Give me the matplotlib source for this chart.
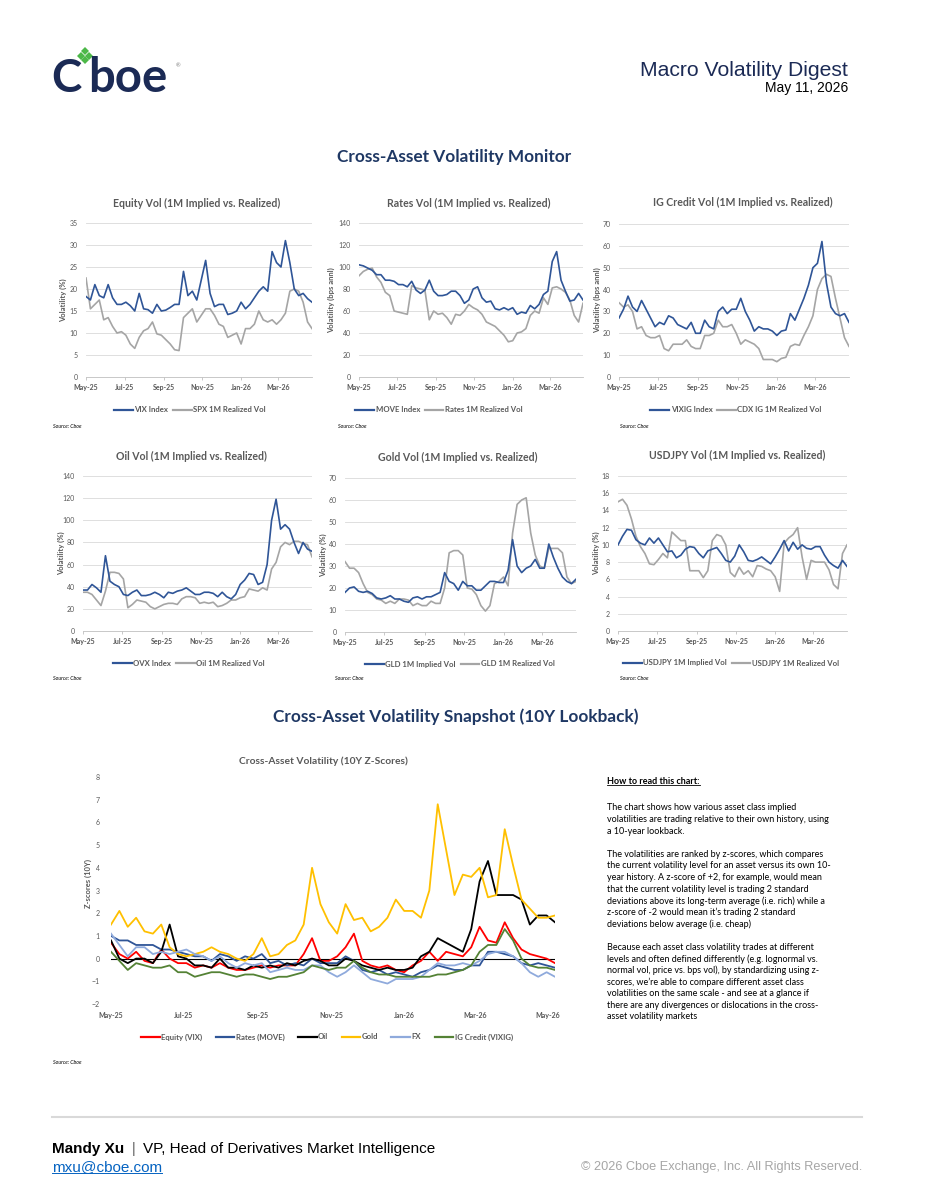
import numpy as np
import pandas as pd
import matplotlib
matplotlib.use("Agg")
import matplotlib.pyplot as plt
import matplotlib.dates as mdates
from matplotlib.lines import Line2D

# weekly dates, 1M vol panels and the z-score chart
panel_dates = pd.date_range("2025-05-01", periods=52, freq="7D")
z_dates = pd.date_range("2025-05-01", periods=54, freq="7D")

# Equity
vix_index = [18.3, 17.5, 21, 18.5, 18, 21, 18, 16.5, 16.5, 17, 16.2, 15, 19, 15.5, 15.3, 14.5, 16.5, 15, 15.2, 15.8,
             16.5, 16.5, 24, 18.5, 19.5, 17.5, 22, 26.5, 19, 16, 16.5, 16.5, 14.2, 14.5, 15, 17, 15.5, 16.5, 18, 19.5,
             20.5, 19.5, 28.5, 26, 25, 31, 26, 20, 18.5, 19, 17.8, 17]
spx_realized = [22.5, 15.5, 16.5, 17.5, 13, 13.5, 11.5, 10, 10.3, 9.5, 7.5, 6.5, 9, 10.5, 11, 12.5, 9.8, 9.5, 8.5, 7.5,
                6.2, 6, 13.5, 14.5, 15.5, 12.5, 14, 15.5, 15.5, 14, 12, 11.5, 9, 9.5, 10, 7.5, 11, 11, 12, 15,
                13, 12.5, 13, 12, 13, 14.5, 19.5, 20, 19.5, 17, 12.5, 11]
# Rates
move_index = [102, 101, 99, 97, 93, 93, 88, 88, 87, 84, 84, 82, 87, 79, 76, 79, 88, 78, 74, 74,
              75, 78, 78, 74, 67, 70, 80, 82, 72, 68, 69, 62, 61, 63, 61, 63, 57, 59, 58, 65,
              62, 66, 75, 78, 105, 114, 88, 78, 69, 70, 76, 70]
rates_realized = [92, 96, 98, 99, 91, 86, 77, 74, 60, 59, 58, 57, 83, 81, 80, 79, 52, 60, 57, 58,
                  54, 48, 57, 56, 60, 66, 63, 61, 57, 50, 48, 46, 42, 38, 32, 33, 40, 41, 44, 56,
                  60, 58, 72, 66, 81, 82, 80, 77, 70, 56, 50, 67]
# IG credit
vixig_index = [27, 31, 37, 32, 30, 35, 31, 27, 23, 25, 24, 28, 27, 24, 23, 22, 25, 20, 20, 26,
               23, 22, 30, 32, 29, 31, 31, 36, 30, 26, 21, 23, 22, 22, 21, 19, 21, 21.5, 29, 26,
               31, 36, 42, 50, 52, 62, 43, 32, 29, 28, 29, 25]
cdx_realized = [34, 32, 33, 30, 22, 23, 19, 18, 18, 19, 13, 12, 15, 15, 15, 17, 14, 13, 13, 19,
                19, 20, 26, 23, 23, 24, 20, 15, 17, 16, 15, 13, 8, 8, 8, 7, 8.5, 9, 14, 15,
                14.5, 19, 23, 28, 40, 45, 47, 46, 36, 27, 18, 14]
# Oil
ovx_index = [37, 37, 42, 39, 35, 68, 45, 42, 40, 33, 32, 35, 37, 32, 32, 33, 35, 33, 30, 35,
             34, 36, 37, 39, 36, 33, 33, 35, 35, 34, 31, 35, 31, 29, 33, 42, 46, 52, 51, 42,
             44, 60, 100, 119, 92, 96, 92, 80, 70, 80, 74, 72]
oil_realized = [35, 35, 33, 28, 23, 36, 53, 53, 52, 47, 21, 24, 28, 27, 26, 22, 20, 22, 24, 25,
                25, 24, 29, 31, 31, 30, 25, 26, 25, 26, 22, 23, 25, 28, 28, 30, 31, 38, 37, 36,
                39, 37, 56, 62, 76, 80, 78, 81, 81, 79, 78, 67]
# Gold
gld_implied = [18, 20, 20.5, 18.5, 18, 18.5, 17.5, 15.5, 15, 15.5, 16.5, 15, 15, 14, 13.5, 15.5, 16, 15, 16, 16,
               17, 18, 27, 23, 22, 19, 23, 21, 21, 19, 19, 21, 23, 23, 22.5, 22.5, 28, 42, 30, 27,
               29, 30, 33, 29, 29, 40, 34, 29, 25, 23, 22, 24]
gld_realized = [32, 29, 29, 27, 22, 18, 17, 15, 14.5, 13, 14, 13, 15, 15, 14.5, 12, 13, 12, 12, 14,
                13, 13, 20, 36, 37, 37, 35, 20, 19.5, 17, 12, 9.5, 12, 22, 23, 25, 21, 45, 58, 60,
                61, 45, 35, 30, 29, 38, 38, 38, 36, 25, 22, 23]
# USDJPY
jpy_implied = [10, 11, 11.8, 11.7, 10.6, 10.2, 10, 10.8, 10.2, 10.8, 10, 9.2, 9.3, 8.5, 8.8, 9.5, 9.8, 9.7, 9, 8.5,
               9.3, 9.5, 9.7, 9, 8.2, 8, 8.7, 10, 9.2, 8.2, 8.1, 8.3, 8.6, 8.2, 7.8, 8.6, 9.5, 10.5, 9.3, 10.3,
               9.5, 10, 9.6, 9.5, 9.8, 9.8, 8.8, 8, 7.6, 7.3, 8.2, 7.5]
jpy_realized = [15, 15.3, 14.6, 13, 11, 9.8, 9, 7.8, 7.7, 8.3, 9, 8.5, 11.5, 11, 10.5, 10.5, 7, 7, 7, 6.2,
                7, 10.5, 11.2, 11, 10, 6.8, 6.3, 7.4, 6.6, 7, 6.3, 7.6, 7.5, 7.2, 7, 6.3, 4.6, 10.2, 10.8, 11.2,
                12, 8.6, 6, 8.2, 8, 8, 8, 7.1, 5.4, 4.9, 9, 10]

# 10Y z-scores
z_equity = [0.7, 0.2, 0, 0.3, -0.1, -0.2, 0.4, 0, -0.2, -0.2, -0.4, -0.3, -0.4, -0.2, -0.4, -0.5, -0.5, -0.4,
            -0.3, -0.4, -0.3, -0.3, -0.3, 0.2, 0.9, -0.1, -0.1, 0.1, 0.5, 1.1, -0.1, -0.3, -0.4, -0.3, -0.5, -0.6,
            -0.3, -0.1, 0.3, -0.1, 0.3, 0.2, 0.1, 0.5, 1.4, 0.8, 0.7, 1.6, 0.9, 0.4, 0.2, 0.1, 0, -0.2]
z_rates = [1.0, 0.8, 0.8, 0.6, 0.6, 0.6, 0.4, 0.4, 0.3, 0.2, 0.1, 0.1, -0.1, 0.2, 0.1, -0.1, 0.1, 0,
           0.2, -0.2, -0.1, -0.3, -0.2, -0.3, 0, -0.2, -0.2, -0.2, 0.1, -0.1, -0.5, -0.6, -0.5, -0.7, -0.6, -0.7,
           -0.8, -0.6, -0.5, -0.3, -0.4, -0.5, -0.5, -0.3, -0.3, 0.3, 0.3, 0.2, 0.1, -0.2, -0.3, -0.2, -0.3, -0.4]
z_oil = [0.8, 0, -0.2, 0, 0, -0.2, 0.3, 1.5, 0.1, 0, -0.3, -0.3, -0.4, 0, -0.4, -0.4, -0.5, -0.3,
         -0.4, -0.3, -0.4, -0.2, -0.3, -0.1, 0, -0.1, -0.3, -0.3, 0, -0.1, -0.3, -0.4, -0.5, -0.4, -0.5, -0.5,
         -0.4, 0.1, 0.3, 0.9, 0.7, 0.5, 0.3, 1.3, 3.4, 4.3, 2.8, 2.8, 2.8, 2.6, 1.5, 1.9, 1.9, 1.6]
z_gold = [1.5, 2.1, 1.4, 1.8, 1.2, 1.1, 1.5, 0.5, 0.2, 0.1, 0.2, 0.3, 0.5, 0.3, 0.2, 0, -0.1, 0.2,
          0.9, 0.1, 0.2, 0.6, 0.8, 1.5, 4.0, 2.4, 1.6, 1.1, 2.4, 1.7, 1.8, 1.2, 1.4, 1.8, 2.6, 2.1,
          2.1, 1.8, 3.0, 6.8, 4.8, 2.8, 3.7, 3.6, 4.0, 2.7, 2.8, 5.7, 4.1, 2.6, 2.2, 1.8, 1.8, 1.9]
z_fx = [1.1, 0.6, 0.1, 0.5, 0.5, 0.2, 0.3, 0.2, 0.3, 0.4, 0.2, 0.1, -0.1, 0.1, -0.2, -0.4, -0.2, -0.3,
        -0.2, -0.6, -0.5, -0.4, -0.5, -0.5, -0.3, -0.3, -0.6, -0.8, -0.6, -0.3, -0.6, -0.9, -1.0, -1.1, -0.9, -0.9,
        -0.9, -0.8, -0.5, -0.2, -0.3, -0.3, -0.2, -0.3, -0.1, 0.2, 0.3, 0.3, 0.1, -0.2, -0.6, -0.8, -0.6, -0.8]
z_ig = [0.3, -0.1, -0.5, -0.2, -0.3, -0.4, -0.4, -0.3, -0.6, -0.6, -0.8, -0.7, -0.6, -0.6, -0.7, -0.8, -0.7, -0.7,
        -0.8, -0.9, -0.8, -0.8, -0.7, -0.6, -0.3, -0.4, -0.5, -0.4, -0.4, -0.1, -0.4, -0.6, -0.7, -0.7, -0.8, -0.8,
        -0.8, -0.8, -0.8, -0.7, -0.7, -0.6, -0.5, -0.3, 0.3, 0.6, 0.6, 1.3, 0.8, 0, -0.3, -0.4, -0.4, -0.5]
z_names = ["Equity (VIX)", "Rates (MOVE)", "Oil", "Gold", "FX", "IG Credit (VIXIG)"]
z_colors = ["#FF0000", "#2F5597", "#000000", "#FFC000", "#8FAADC", "#548235"]

notes = [
    "The chart shows how various asset class implied",
    "volatilities are trading relative to their own history, using",
    "a 10-year lookback.",
    "",
    "The volatilities are ranked by z-scores, which compares",
    "the current volatility level for an asset versus its own 10-",
    "year history. A z-score of +2, for example, would mean",
    "that the current volatility level is trading 2 standard",
    "deviations above its long-term average (i.e. rich) while a",
    "z-score of -2 would mean it\u2019s trading 2 standard",
    "deviations below average (i.e. cheap)",
    "",
    "Because each asset class volatility trades at different",
    "levels and often defined differently (e.g. lognormal vs.",
    "normal vol, price vs. bps vol), by standardizing using z-",
    "scores, we\u2019re able to compare different asset class",
    "volatilities on the same scale - and see at a glance if",
    "there are any divergences or dislocations in the cross-",
    "asset volatility markets",
]

W, H = 927, 1200
CHART_FONT = ["Lato", "DejaVu Sans"]
HEAD_FONT = ["Liberation Sans", "DejaVu Sans"]
BLUE = "#2F5597"
GREY = "#A5A5A5"
TXT = "#595959"
NAVY = "#1F3864"
LOGO = "#1B2A55"

plt.rcParams["font.family"] = CHART_FONT


def fx(x):
    return x / W


def fy(y):
    return 1 - y / H


fig = plt.figure(figsize=(W / 100, H / 100), dpi=100)


def add_ax(x0, y0, x1, y1):
    return fig.add_axes([fx(x0), fy(y1), (x1 - x0) / W, (y1 - y0) / H])


def date_axis(ax, dates):
    ax.set_xlim(dates[0], dates[-1])
    ax.xaxis.set_major_locator(mdates.MonthLocator(bymonth=[1, 3, 5, 7, 9, 11]))
    ax.xaxis.set_major_formatter(mdates.DateFormatter("%b-%y"))
    for lbl in ax.get_xticklabels():
        lbl.set_fontweight("bold")


def panel(box, title, tpos, ylabel, ylx, ymax, ystep, implied, realized, names, leg, src):
    ax = add_ax(*box)
    ax.plot(panel_dates, realized, color=GREY, lw=1.2, zorder=2)
    ax.plot(panel_dates, implied, color=BLUE, lw=1.2, zorder=3)
    ax.set_ylim(0, ymax)
    ax.set_yticks(np.arange(0, ymax + ystep / 2, ystep))
    date_axis(ax, panel_dates)
    ax.grid(axis="y", color="#D9D9D9", lw=0.6)
    ax.set_axisbelow(True)
    for s in ("top", "right", "left"):
        ax.spines[s].set_visible(False)
    ax.spines["bottom"].set_color("#BFBFBF")
    ax.spines["bottom"].set_linewidth(0.6)
    ax.tick_params(axis="y", length=0, pad=6, labelsize=5, labelcolor=TXT)
    ax.tick_params(axis="x", length=2, width=0.6, color="#BFBFBF", pad=3, labelsize=5, labelcolor=TXT)
    for lbl in ax.get_xticklabels():
        lbl.set_fontweight("bold")
    fig.text(fx(tpos[0]), fy(tpos[1]), title, ha="center", va="center",
             fontsize=7.6, fontweight="bold", color=TXT)
    fig.text(fx(ylx), fy((box[1] + box[3]) / 2), ylabel, rotation=90, ha="center", va="center",
             fontsize=5.5, fontweight="bold", color=TXT)
    hs = [Line2D([], [], color=BLUE, lw=1.6), Line2D([], [], color=GREY, lw=1.6)]
    lg = fig.legend(hs, names, loc="center", bbox_to_anchor=(fx(leg[0]), fy(leg[1])), ncol=2,
                    frameon=False, fontsize=5.6, handlelength=2.4, handletextpad=0.2, columnspacing=0.6)
    for t in lg.get_texts():
        t.set_color(TXT)
        t.set_fontweight("bold")
    fig.text(fx(src[0]), fy(src[1]), "Source: Cboe", fontsize=3.8, style="italic", ha="left", va="center")
    return ax


# header
fig.text(fx(51), fy(92), "C", fontsize=33, fontweight="bold", color=LOGO, ha="left", va="baseline")
fig.text(fx(88), fy(92), "boe", fontsize=34, fontweight="bold", color=LOGO, ha="left", va="baseline")
for dx, dy in [(85, 51), (81, 55.5), (89, 55.5), (85, 60)]:
    fig.add_artist(Line2D([fx(dx)], [fy(dy)], marker="D", markersize=4.2, color="#4CB848",
                          markeredgewidth=0, transform=fig.transFigure))
fig.text(fx(178), fy(66), "\u00ae", fontsize=4, color="#808080", ha="center", va="center")
fig.text(fx(848), fy(71), "Macro Volatility Digest", fontsize=15.2, color=LOGO, family=HEAD_FONT,
         ha="right", va="center")
fig.text(fx(848), fy(88), "May 11, 2026", fontsize=10, color="black", family=HEAD_FONT,
         ha="right", va="center")

fig.text(fx(454), fy(157), "Cross-Asset Volatility Monitor", fontsize=12.4, fontweight="bold",
         color=NAVY, ha="center", va="center")

panel((86, 223, 312, 377), "Equity Vol (1M Implied vs. Realized)", (197, 203), "Volatility (%)", 63,
      35, 5, vix_index, spx_realized, ["VIX Index", "SPX 1M Realized Vol"], (190, 410), (53, 427))
panel((359, 223, 583, 377), "Rates Vol (1M Implied vs. Realized)", (469, 203), "Volatility (bps annl)", 331,
      140, 20, move_index, rates_realized, ["MOVE Index", "Rates 1M Realized Vol"], (439, 410), (338, 427))
panel((619, 224, 849, 377), "IG Credit Vol (1M Implied vs. Realized)", (743, 202), "Volatility (bps annl)", 597,
      70, 10, vixig_index, cdx_realized, ["VIXIG Index", "CDX IG 1M Realized Vol"], (736, 410), (620, 427))
panel((83, 476, 312, 631), "Oil Vol (1M Implied vs. Realized)", (191, 456), "Volatility (%)", 61,
      140, 20, ovx_index, oil_realized, ["OVX Index", "Oil 1M Realized Vol"], (189, 663), (53, 679))
panel((345, 478, 576, 632), "Gold Vol (1M Implied vs. Realized)", (458, 457), "Volatility (%)", 323,
      70, 10, gld_implied, gld_realized, ["GLD 1M Implied Vol", "GLD 1M Realized Vol"], (460, 664), (335, 679))
panel((618, 476, 847, 631), "USDJPY Vol (1M Implied vs. Realized)", (737, 455), "Volatility (%)", 596,
      18, 2, jpy_implied, jpy_realized, ["USDJPY 1M Implied Vol", "USDJPY 1M Realized Vol"], (731, 663), (620, 679))

# z-score section
fig.text(fx(456), fy(717), "Cross-Asset Volatility Snapshot (10Y Lookback)", fontsize=12.4, fontweight="bold",
         color=NAVY, ha="center", va="center")
axz = add_ax(111, 777, 555, 1004)
for vals, col in zip([z_equity, z_rates, z_oil, z_gold, z_fx, z_ig], z_colors):
    axz.plot(z_dates, vals, color=col, lw=1.3)
axz.axhline(0, color="black", lw=0.8, zorder=1)
axz.set_ylim(-2, 8)
axz.set_yticks(range(-2, 9))
date_axis(axz, z_dates)
for s in axz.spines.values():
    s.set_visible(False)
axz.tick_params(length=0, labelsize=5, labelcolor=TXT)
axz.tick_params(axis="x", pad=6)
axz.tick_params(axis="y", pad=8)
for lbl in axz.get_xticklabels():
    lbl.set_fontweight("bold")
fig.text(fx(323), fy(761), "Cross-Asset Volatility (10Y Z-Scores)", fontsize=7.4, fontweight="bold",
         color=TXT, ha="center", va="center")
fig.text(fx(88), fy(884), "Z-scores (10Y)", rotation=90, fontsize=5.5, fontweight="bold", color=TXT,
         ha="center", va="center")
zh = [Line2D([], [], color=c, lw=1.6) for c in z_colors]
lg = fig.legend(zh, z_names, loc="center", bbox_to_anchor=(fx(327), fy(1037)), ncol=6, frameon=False,
                fontsize=5.6, handlelength=2.4, handletextpad=0.2, columnspacing=1.7)
for t in lg.get_texts():
    t.set_color(TXT)
    t.set_fontweight("bold")
fig.text(fx(53), fy(1062), "Source: Cboe", fontsize=3.8, style="italic", ha="left", va="center")

# how-to-read notes
renderer = fig.canvas.get_renderer()
head = fig.text(fx(607), fy(781), "How to read this chart:", fontsize=6.5, fontweight="bold",
                ha="left", va="center")
bb = head.get_window_extent(renderer)
fig.add_artist(Line2D([bb.x0 / W, bb.x1 / W], [(bb.y0 + 0.5) / H] * 2, color="black", lw=0.6,
                      transform=fig.transFigure))
for k, line in enumerate(notes):
    fig.text(fx(607), fy(808 + k * 11.6), line, fontsize=6.5, ha="left", va="center")

# footer
fig.add_artist(Line2D([fx(52), fx(862)], [fy(1117)] * 2, color="#D9D9D9", lw=1.5, transform=fig.transFigure))
fig.text(fx(52), fy(1149), "Mandy Xu", fontsize=11, fontweight="bold", family=HEAD_FONT, ha="left", va="center")
fig.text(fx(132), fy(1149), "|", fontsize=10, color="#595959", family=HEAD_FONT, ha="left", va="center")
fig.text(fx(143), fy(1149), "VP, Head of Derivatives Market Intelligence", fontsize=11, family=HEAD_FONT,
         ha="left", va="center")
mail = fig.text(fx(52), fy(1167), "mxu@cboe.com", fontsize=11, color="#0563C1", family=HEAD_FONT,
                ha="left", va="center")
bb = mail.get_window_extent(renderer)
fig.add_artist(Line2D([bb.x0 / W, bb.x1 / W], [(bb.y0 + 1) / H] * 2, color="#0563C1", lw=0.7,
                      transform=fig.transFigure))
fig.text(fx(862), fy(1167), "\u00a9 2026 Cboe Exchange, Inc. All Rights Reserved.", fontsize=9.2,
         color="#A6A6A6", family=HEAD_FONT, ha="right", va="center")

fig.savefig("out.png", dpi=100, facecolor="white")
